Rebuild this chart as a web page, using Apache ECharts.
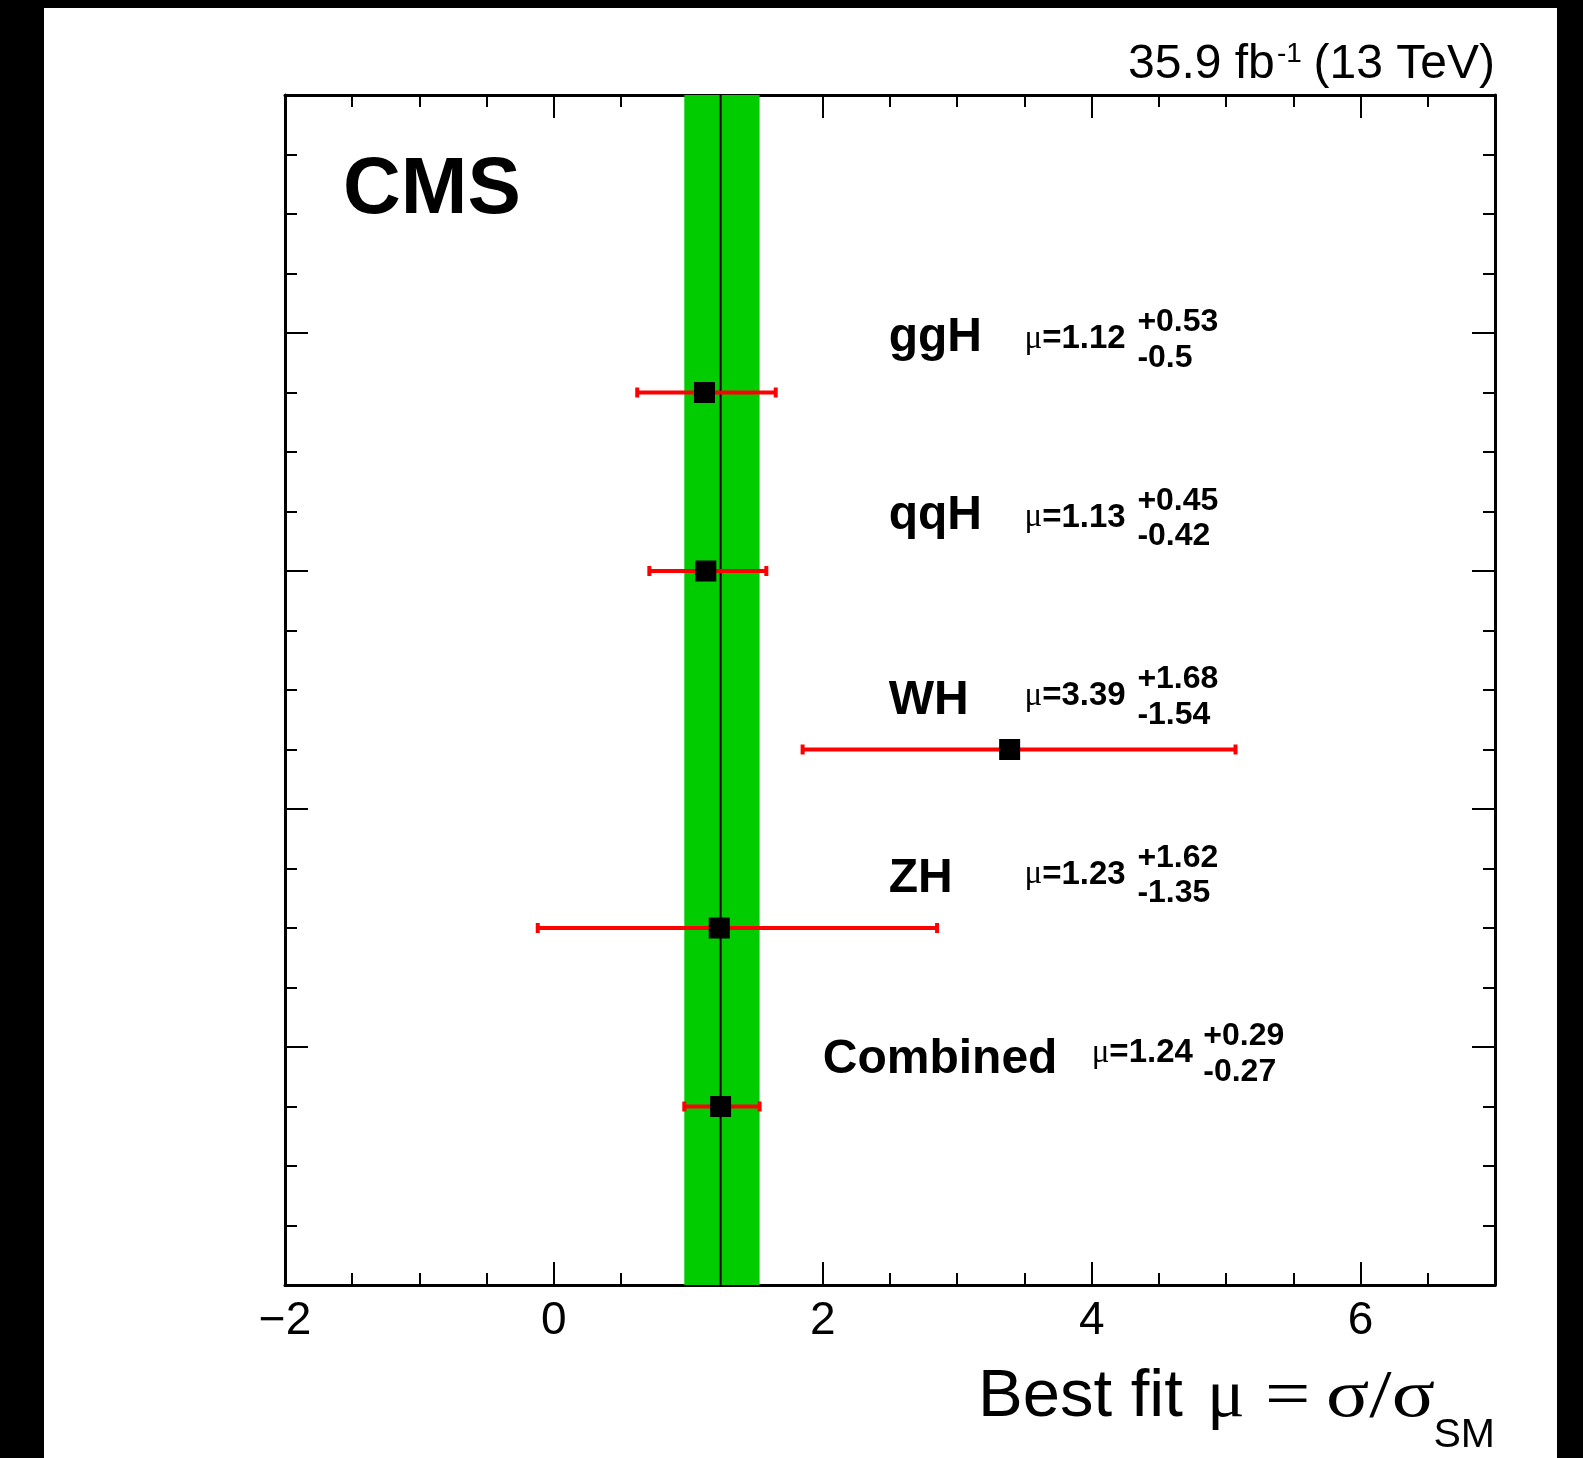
<!DOCTYPE html>
<html><head><meta charset="utf-8">
<script src="https://cdn.jsdelivr.net/npm/echarts@6/dist/echarts.min.js"></script>
<style>
html,body{margin:0;padding:0;background:#000;width:1583px;height:1458px;overflow:hidden}
#chart{position:absolute;left:44px;top:8px;width:1513px;height:1450px;background:#fff}
</style></head><body><div id="chart"></div>
<script>
// ---- data ----
const categories = ['ggH', 'qqH', 'WH', 'ZH', 'Combined'];
const muValues = [1.12, 1.13, 3.39, 1.23, 1.24];
const errUp = [0.53, 0.45, 1.68, 1.62, 0.29];
const errDown = [0.5, 0.42, 1.54, 1.35, 0.27];
const rowPositions = [15, 12, 9, 6, 3];
const xTickValues = [-2, 0, 2, 4, 6];
const xTickLabels = ['\u22122', '0', '2', '4', '6'];
const combinedIndex = 4;

// ---- layout (not data) ----
const nameX = [2.49, 2.49, 2.49, 2.49, 2.0];
const muTextX = [3.5, 3.5, 3.5, 3.5, 4.0];
const errTextX = [4.34, 4.34, 4.34, 4.34, 4.83];
const nameLift = [55, 55, 48.5, 49, 47];
const MU_LIFT = 53.5, UP_LIFT = 70, DOWN_LIFT = 34.5;
const SANS = '"Liberation Sans", Arial, Helvetica, sans-serif';
const SERIF = '"Liberation Serif", "Times New Roman", serif';
const X_MIN = -2, X_MAX = 7, Y_MIN = 0, Y_MAX = 20;

function xAx(pos, interval, len, main, labels) {
  return {
    type: 'value', position: pos, min: X_MIN, max: X_MAX, interval: interval, gridIndex: 0,
    axisLine: { show: main, onZero: false, lineStyle: { color: '#000', width: 3 } },
    axisTick: { show: true, inside: true, length: len, lineStyle: { color: '#000', width: 2 } },
    axisLabel: labels ? {
      show: true, color: '#000', fontFamily: SANS, fontSize: 46, margin: 13, interval: 0,
      showMinLabel: true, showMaxLabel: false,
      formatter: function (v) { const k = xTickValues.indexOf(v); return k >= 0 ? xTickLabels[k] : ''; }
    } : { show: false },
    splitLine: { show: false }
  };
}
function yAx(pos, interval, len, main) {
  return {
    type: 'value', position: pos, min: Y_MIN, max: Y_MAX, interval: interval, gridIndex: 0,
    axisLine: { show: main, onZero: false, lineStyle: { color: '#000', width: 3 } },
    axisTick: { show: true, inside: true, length: len, lineStyle: { color: '#000', width: 2 } },
    axisLabel: { show: false },
    splitLine: { show: false }
  };
}

const c = combinedIndex;
const bandData = [[muValues[c] - errDown[c], muValues[c] + errUp[c], muValues[c]]];
const pointData = categories.map((n, i) => [muValues[i], rowPositions[i]]);
const errData = categories.map((n, i) => [muValues[i], rowPositions[i], muValues[i] - errDown[i], muValues[i] + errUp[i]]);

function txt(text, x, y, font, align) {
  return { type: 'text', style: { text: text, x: x, y: y, font: font, fill: '#000', align: align || 'left', verticalAlign: 'middle' } };
}
function gtxt(text, x, y, font, align, sx) {
  return { type: 'text', x: x, y: y, scaleX: sx || 1, scaleY: 1,
    style: { text: text, x: 0, y: 0, font: font, fill: '#000', align: align || 'left', verticalAlign: 'middle' } };
}

const option = {
  animation: false,
  backgroundColor: '#fff',
  grid: { left: 241, top: 87, width: 1210, height: 1190, containLabel: false },
  xAxis: [
    xAx('bottom', 2, 23, true, true),
    xAx('bottom', 0.5, 12, false, false),
    xAx('top', 2, 23, true, false),
    xAx('top', 0.5, 12, false, false)
  ],
  yAxis: [
    yAx('left', 4, 23, true),
    yAx('left', 1, 12, false),
    yAx('right', 4, 23, true),
    yAx('right', 1, 12, false)
  ],
  series: [
    {
      type: 'custom', name: 'band', xAxisIndex: 0, yAxisIndex: 0, silent: true, z: 1,
      data: bandData,
      renderItem: function (params, api) {
        const lo = api.value(0), hi = api.value(1), m = api.value(2);
        const p1 = api.coord([lo, Y_MAX]), p2 = api.coord([hi, Y_MIN]);
        const t = api.coord([m, Y_MAX]), b = api.coord([m, Y_MIN]);
        return {
          type: 'group', children: [
            { type: 'rect', shape: { x: p1[0], y: p1[1], width: p2[0] - p1[0], height: p2[1] - p1[1] }, style: { fill: '#00cc00' } },
            { type: 'line', shape: { x1: t[0], y1: t[1], x2: b[0], y2: b[1] }, style: { stroke: '#000', lineWidth: 2 } }
          ]
        };
      }
    },
    {
      type: 'custom', name: 'errors', xAxisIndex: 0, yAxisIndex: 0, silent: true, z: 3,
      data: errData,
      renderItem: function (params, api) {
        const y = api.value(1);
        const a = api.coord([api.value(2), y]), b = api.coord([api.value(3), y]);
        const cap = 5, st = { stroke: '#ff0000', lineWidth: 4 };
        return {
          type: 'group', children: [
            { type: 'line', shape: { x1: a[0], y1: a[1], x2: b[0], y2: b[1] }, style: st },
            { type: 'line', shape: { x1: a[0], y1: a[1] - cap, x2: a[0], y2: a[1] + cap }, style: st },
            { type: 'line', shape: { x1: b[0], y1: b[1] - cap, x2: b[0], y2: b[1] + cap }, style: st }
          ]
        };
      }
    },
    {
      type: 'scatter', name: 'best fit', xAxisIndex: 0, yAxisIndex: 0, silent: true, z: 5,
      symbol: 'rect', symbolSize: 21, itemStyle: { color: '#000', opacity: 1 },
      data: pointData
    },
    {
      type: 'custom', name: 'labels', xAxisIndex: 0, yAxisIndex: 0, silent: true, z: 6,
      data: pointData,
      renderItem: function (params, api) {
        const i = params.dataIndex;
        const yv = api.value(1);
        const pn = api.coord([nameX[i], yv]);
        const pm = api.coord([muTextX[i], yv]);
        const pe = api.coord([errTextX[i], yv]);
        return {
          type: 'group', children: [
            txt(categories[i], pn[0], pn[1] - nameLift[i], 'bold 48px ' + SANS),
            {
              type: 'text', style: {
                text: '{m|\u03bc}{v|=' + String(muValues[i]) + '}', x: pm[0], y: pm[1] - MU_LIFT,
                align: 'left', verticalAlign: 'middle', fill: '#000',
                rich: { m: { font: '33px ' + SERIF, fill: '#000' }, v: { font: 'bold 33px ' + SANS, fill: '#000' } }
              }
            },
            txt('+' + String(errUp[i]), pe[0], pe[1] - UP_LIFT, 'bold 32px ' + SANS),
            txt('-' + String(errDown[i]), pe[0], pe[1] - DOWN_LIFT, 'bold 32px ' + SANS)
          ]
        };
      }
    }
  ],
  graphic: [
    txt('CMS', 299, 183, 'bold 80px ' + SANS),
    txt('35.9 fb', 1084, 57, '48px ' + SANS),
    txt('-1', 1233, 46, '28px ' + SANS),
    txt('(13 TeV)', 1451, 57, '48px ' + SANS, 'right'),
    txt('Best fit', 934, 1390, '67px ' + SANS),
    gtxt('\u03bc', 1163, 1390, '67px ' + SERIF, 'left', 1.05),
    gtxt('=', 1221, 1390, '67px ' + SERIF, 'left', 1.2),
    gtxt('\u03c3/\u03c3', 1282, 1390, '67px ' + SERIF, 'left', 1.2),
    txt('SM', 1451, 1428, '41px ' + SANS, 'right')
  ]
};

const chart = echarts.init(document.getElementById('chart'), null, { renderer: 'canvas' });
chart.setOption(option);
</script>
</body></html>
